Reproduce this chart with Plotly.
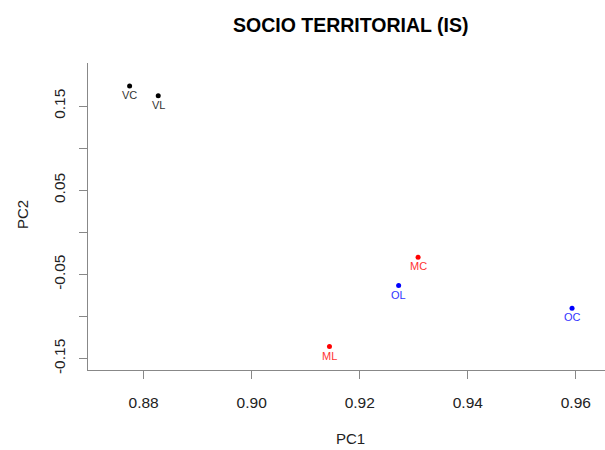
import plotly.graph_objects as go

labels = ["VC", "VL", "MC", "ML", "OL", "OC"]
pc1 = [0.8774, 0.8827, 0.9308, 0.9144, 0.9272, 0.9593]
pc2 = [0.1738, 0.1622, -0.0295, -0.1355, -0.0631, -0.0900]
colors = ["#000000", "#000000", "#ff0000", "#ff0000", "#0000ff", "#0000ff"]
label_colors = ["#333333", "#333333", "#ff3333", "#ff3333", "#3333ff", "#3333ff"]

x_ticks = [0.88, 0.90, 0.92, 0.94, 0.96]
x_ticktext = ["0.88", "0.90", "0.92", "0.94", "0.96"]
y_ticks = [-0.15, -0.10, -0.05, 0.00, 0.05, 0.10, 0.15]
y_ticktext = ["-0.15", "", "-0.05", "", "0.05", "", "0.15"]

FONT = "Liberation Sans, Arial, sans-serif"

fig = go.Figure()
fig.add_trace(go.Scatter(
    x=pc1, y=pc2, mode="markers",
    marker=dict(size=5, color=colors),
    hoverinfo="skip", showlegend=False,
))
for xv, yv, t, c in zip(pc1, pc2, labels, label_colors):
    fig.add_annotation(x=xv, y=yv, text=t, showarrow=False, yanchor="middle",
                       yshift=-9, font=dict(family=FONT, size=11, color=c))

fig.add_annotation(text="SOCIO TERRITORIAL (IS)", xref="paper", yref="paper",
                   x=(350.5 - 88) / 517, y=1, xanchor="center", yanchor="middle",
                   yshift=38, showarrow=False,
                   font=dict(family=FONT, size=19.5, color="#000000", weight="bold"))
fig.add_annotation(text="PC1", xref="paper", yref="paper", x=(350 - 88) / 517, y=0,
                   xanchor="center", yanchor="middle", yshift=-68, showarrow=False,
                   font=dict(family=FONT, size=15, color="#222222"))
fig.add_annotation(text="PC2", xref="paper", yref="paper", x=0, y=(370 - 215) / 307,
                   xanchor="center", yanchor="middle", xshift=-66, textangle=-90,
                   showarrow=False,
                   font=dict(family=FONT, size=15, color="#222222"))

fig.update_xaxes(range=[0.8697, 0.9654], tickvals=x_ticks, ticktext=x_ticktext,
                 showgrid=False, zeroline=False, showline=True, linecolor="#888888",
                 linewidth=1, ticks="outside", ticklen=8, tickcolor="#888888",
                 ticklabelstandoff=10,
                 tickfont=dict(family=FONT, size=15.5, color="#222222"))
fig.update_yaxes(range=[-0.1634, 0.2011], tickvals=y_ticks, ticktext=y_ticktext,
                 showgrid=False, zeroline=False, showline=True, linecolor="#888888",
                 linewidth=1, ticks="outside", ticklen=8, tickcolor="#888888",
                 tickangle=-90, ticklabelstandoff=8,
                 tickfont=dict(family=FONT, size=15.5, color="#222222"))
fig.update_layout(width=605, height=450, margin=dict(l=88, r=0, t=63, b=80),
                  plot_bgcolor="white", paper_bgcolor="white")
fig.write_html("out.html")
